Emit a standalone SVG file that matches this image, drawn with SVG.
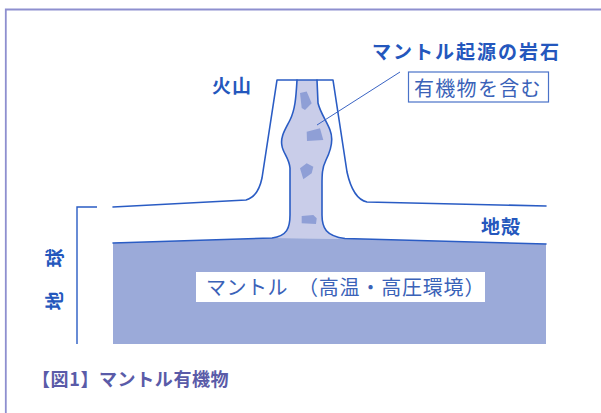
<svg xmlns="http://www.w3.org/2000/svg" width="601" height="413" viewBox="0 0 601 413">
  <style>
    .jp { font-family: "Noto Sans CJK JP", "Noto Sans", sans-serif; }
    .label { fill: #2457bd; font-weight: bold; }
    .thin { fill: #3a62b8; font-weight: normal; }
    .edge { fill: none; stroke: #2a5cc4; stroke-width: 1.6; stroke-linejoin: round; stroke-linecap: round; }
    .chunk { fill: #8f9fd6; }
  </style>
  <rect width="601" height="413" fill="#ffffff"/>

  <!-- outer frame -->
  <g id="frame" fill="none" stroke="#8e8fcf" stroke-width="1.8">
    <path d="M5.8,413 V9.5 H601"/>
  </g>

  <!-- mantle body -->
  <g id="mantle">
    <path d="M113,243 L272,238 L345,238.5 L546,244 L546,344 L113,344 Z" fill="#9baad9"/>
    <rect x="196" y="272" width="289" height="30" fill="#ffffff"/>
    <text class="jp thin" x="206" y="294.5" font-size="20" letter-spacing="0.5">マントル</text>
    <text class="jp thin" x="298" y="295" font-size="20" letter-spacing="0.8">（高温・高圧環境）</text>
  </g>

  <!-- magma conduit with rock fragments -->
  <g id="conduit">
    <path d="M297,80 C296,98 295,110 290,120 C285,130 280,137 282,146 C283,153 289,158 290,168 L290,215 C290,228 287,236 272,238 L345,238.5 C326,236 322,228 322,215 L322,185 C322,175 322,168 326,160 C331,150 334,140 330,130 C327,122 320,112 318,103 L317,80 Z" fill="#c9cde9"/>
    <polygon class="chunk" points="300,93 306.7,91.5 311.7,103.3 305,110 301.7,108"/>
    <polygon class="chunk" points="306.7,131.7 320,128.3 323.3,140 307,141"/>
    <polygon class="chunk" points="300,168.3 306.7,163.3 313.3,166.7 311.7,173.3 303.3,179.3"/>
    <polygon class="chunk" points="301.7,216 313.3,215 316.7,218.3 316,224 301.7,223.3"/>
  </g>

  <!-- crust and volcano outline -->
  <g id="crust">
    <path class="edge" d="M113,207 L246,200 Q258,197 262,178 L277,80 L333,80 L347,172 Q353,199 367,202 L546,206"/>
    <text class="jp label" x="481" y="233.5" font-size="19" letter-spacing="1">地殻</text>
    <text class="jp label" x="212" y="93" font-size="19" letter-spacing="1">火山</text>
  </g>

  <!-- conduit walls and mantle surface -->
  <g id="walls">
    <path class="edge" d="M297,80 C296,98 295,110 290,120 C285,130 280,137 282,146 C283,153 289,158 290,168 L290,215 C290,228 287,236 272,238 L113,243"/>
    <path class="edge" d="M317,80 L318,103 C320,112 327,122 330,130 C334,140 331,150 326,160 C322,168 322,175 322,185 L322,215 C322,228 326,236 345,238.5 L546,244"/>
  </g>

  <!-- earth bracket -->
  <g id="earth">
    <path d="M97,207 H77 V344" fill="none" stroke="#2a5cc4" stroke-width="1.4"/>
    <text class="jp label" font-size="19" text-anchor="middle" dominant-baseline="central" transform="translate(53,258) rotate(-90)">球</text>
    <text class="jp label" font-size="19" text-anchor="middle" dominant-baseline="central" transform="translate(53,301) rotate(-90)">地</text>
  </g>

  <!-- callout for the rock -->
  <g id="connectors">
    <line x1="400" y1="72" x2="317" y2="125" stroke="#3a64c4" stroke-width="1"/>
  </g>
  <g id="rock-label">
    <text class="jp label" x="372" y="59" font-size="19" letter-spacing="2">マントル起源の岩石</text>
    <rect x="408.5" y="72" width="140" height="30" fill="#ffffff" stroke="#4a72c8" stroke-width="1.2"/>
    <text class="jp thin" x="414" y="96" font-size="20" letter-spacing="1.3">有機物を含む</text>
  </g>

  <!-- caption -->
  <g id="caption">
    <text class="jp" x="32" y="386" font-size="18" font-weight="bold" fill="#5a5ba8" letter-spacing="0.6">【図1】マントル有機物</text>
  </g>
</svg>
